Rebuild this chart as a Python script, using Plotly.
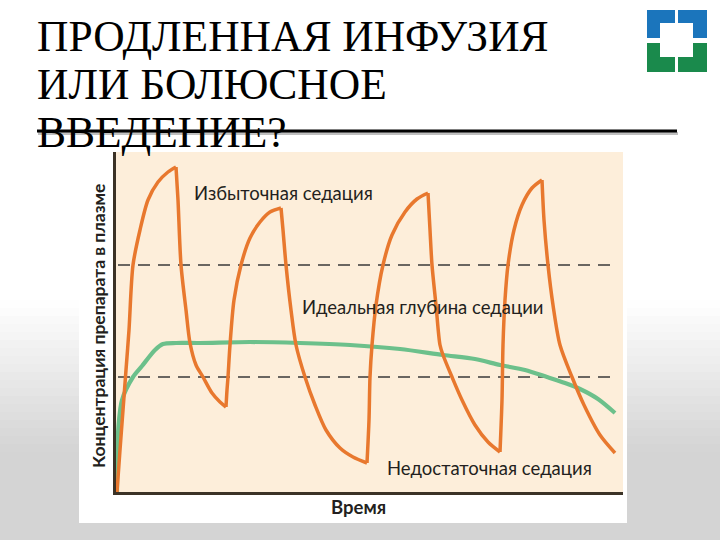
import plotly.graph_objects as go

W, H = 720, 540

# ---- data (x = time units, y = concentration units) ----
# bolus curve: alternating rise / fall segments; corner_idx marks peaks & troughs
orange_x = [1, 4, 7, 10, 13, 17, 24, 32, 42, 52, 60,
            62, 65, 70, 74, 80, 87, 96, 104, 110,
            111, 112, 114, 118, 125, 134, 144, 154, 165,
            167, 170, 175, 180, 189, 199, 210, 224, 237, 251,
            253, 254, 256, 260, 267, 276, 289, 301, 312,
            314, 316, 320, 324, 327, 336, 346, 359, 372, 384,
            386, 387, 389, 392, 398, 406, 416, 426,
            428, 432, 437, 444, 456, 468, 484, 499]
orange_y = [0, 42, 82, 122, 162, 227, 262, 292, 310, 320, 325,
            292, 227, 182, 149, 127, 115, 99, 90, 85,
            102, 115, 147, 192, 227, 254, 270, 280, 284,
            262, 227, 182, 147, 115, 87, 62, 44, 35, 29,
            72, 115, 147, 187, 227, 257, 280, 293, 299,
            262, 227, 187, 147, 137, 115, 92, 67, 50, 40,
            92, 147, 192, 227, 262, 287, 304, 312,
            272, 227, 187, 147, 115, 87, 57, 39]
corner_idx = [0, 10, 19, 28, 38, 47, 57, 65, 73]

# infusion curve
green_x = [1, 2, 6, 17, 26, 39, 47, 60, 84, 134, 184, 234,
           284, 327, 359, 384, 409, 431, 449, 464, 482, 499]
green_y = [0, 59, 92, 115, 126, 142, 148, 149, 149, 150, 149, 147,
           143, 137, 133, 127, 122, 115, 109, 103, 93, 79]

thr_x = [2, 499]
over_level = [227, 227]
under_level = [115, 115]

labels = ["Избыточная седация", "Идеальная глубина седации", "Недостаточная седация"]
x_title = "Время"
y_title = "Концентрация препарата в плазме"
title_lines = ["ПРОДЛЕННАЯ ИНФУЗИЯ", "ИЛИ БОЛЮСНОЕ", "ВВЕДЕНИЕ?"]

ORANGE = "#E8782E"
GREEN = "#6CC08B"
BEIGE = "#FDEEDA"
TEXT = "#231F20"
SANS = "Lato"


def px(x):
    return x / W


def py(y):
    return 1 - y / H


fig = go.Figure()

for lvl in (over_level, under_level):
    fig.add_trace(go.Scatter(x=thr_x, y=lvl, mode="lines",
                             line=dict(color="#3a3a3a", width=1.6, dash="12px,8px"),
                             hoverinfo="skip", showlegend=False))

fig.add_trace(go.Scatter(x=green_x, y=green_y, mode="lines",
                         line=dict(color=GREEN, width=4.2, shape="spline", smoothing=0.8),
                         showlegend=False))
for a, b in zip(corner_idx[:-1], corner_idx[1:]):
    xs = orange_x[a:b + 1]
    ys = orange_y[a:b + 1]
    fig.add_trace(go.Scatter(x=xs, y=ys, mode="lines",
                             line=dict(color=ORANGE, width=3.5, shape="spline", smoothing=0.8),
                             showlegend=False, hoverinfo="skip"))

shapes = []
# background gradient (slide)
n = 30
top, bot = 300, 540
for i in range(n):
    y0 = top + (bot - top) * i / n
    y1 = top + (bot - top) * (i + 1) / n
    t = min(1.0, (i + 0.5) / n * 1.6)
    g = int(round(255 - (255 - 212) * t))
    shapes.append(dict(type="rect", xref="paper", yref="paper", layer="below",
                       x0=0, x1=1, y0=py(y1), y1=py(y0),
                       fillcolor=f"rgb({g},{g},{g})", line=dict(width=0)))
# chart white card and beige plotting panel
shapes.append(dict(type="rect", xref="paper", yref="paper", layer="below",
                   x0=px(79), x1=px(627), y0=py(523), y1=py(146),
                   fillcolor="white", line=dict(width=0)))
shapes.append(dict(type="rect", xref="paper", yref="paper", layer="below",
                   x0=px(116), x1=px(623), y0=py(492), y1=py(152),
                   fillcolor=BEIGE, line=dict(width=0)))
# title underline with shadow
shapes.append(dict(type="line", xref="paper", yref="paper", layer="above",
                   x0=px(38), x1=px(678), y0=py(133.5), y1=py(133.5),
                   line=dict(color="rgba(0,0,0,0.25)", width=3)))
shapes.append(dict(type="line", xref="paper", yref="paper", layer="above",
                   x0=px(37), x1=px(677), y0=py(131), y1=py(131),
                   line=dict(color="black", width=3)))


def poly(pts, color):
    d = "M " + " L ".join(f"{px(a):.5f},{py(b):.5f}" for a, b in pts) + " Z"
    return dict(type="path", xref="paper", yref="paper", path=d,
                fillcolor=color, line=dict(width=0), layer="above")


BLUE = "#1B75BC"
LGREEN = "#1A8A4C"
shapes.append(poly([(647, 10), (675, 10), (675, 23), (660, 23), (660, 38), (647, 38)], BLUE))
shapes.append(poly([(678, 10), (707, 10), (707, 38), (693, 38), (693, 23), (678, 23)], BLUE))
shapes.append(poly([(647, 43), (660, 43), (660, 57), (675, 57), (675, 72), (647, 72)], LGREEN))
shapes.append(poly([(693, 43), (707, 43), (707, 72), (678, 72), (678, 57), (693, 57)], LGREEN))

annotations = []
for txt, (x, y) in zip(labels, [(192, 193), (300, 307), (385, 468)]):
    annotations.append(dict(text=txt, x=px(x), y=py(y), xref="paper", yref="paper",
                            xanchor="left", yanchor="middle", showarrow=False,
                            font=dict(family=SANS, size=18.5, color=TEXT)))
annotations.append(dict(text="<b>" + x_title + "</b>", x=px(358), y=py(507),
                        xref="paper", yref="paper", xanchor="center", yanchor="middle",
                        showarrow=False, font=dict(family=SANS, size=18.5, color=TEXT)))
annotations.append(dict(text="<b>" + y_title + "</b>", x=px(98), y=py(326),
                        xref="paper", yref="paper", xanchor="center", yanchor="middle",
                        textangle=-90, showarrow=False,
                        font=dict(family=SANS, size=17.5, color=TEXT)))
for txt, yc in zip(title_lines, [36, 84, 132]):
    annotations.append(dict(text=txt, x=px(35), y=py(yc), xref="paper", yref="paper",
                            xanchor="left", yanchor="middle", showarrow=False,
                            font=dict(family="Liberation Serif", size=43.5, color="black")))

fig.update_layout(
    width=W, height=H, margin=dict(l=0, r=0, t=0, b=0),
    paper_bgcolor="white", plot_bgcolor="rgba(0,0,0,0)",
    showlegend=False,
    xaxis=dict(domain=[px(116), px(623)], range=[0, 507], showgrid=False,
               zeroline=False, showticklabels=False, ticks="",
               showline=True, linecolor="#3b3226", linewidth=2.5, mirror=False),
    yaxis=dict(domain=[py(492), py(152)], range=[0, 340], showgrid=False,
               zeroline=False, showticklabels=False, ticks="",
               showline=True, linecolor="#3b3226", linewidth=2.5, mirror=False),
    shapes=shapes, annotations=annotations,
)

fig.write_html("out.html")
